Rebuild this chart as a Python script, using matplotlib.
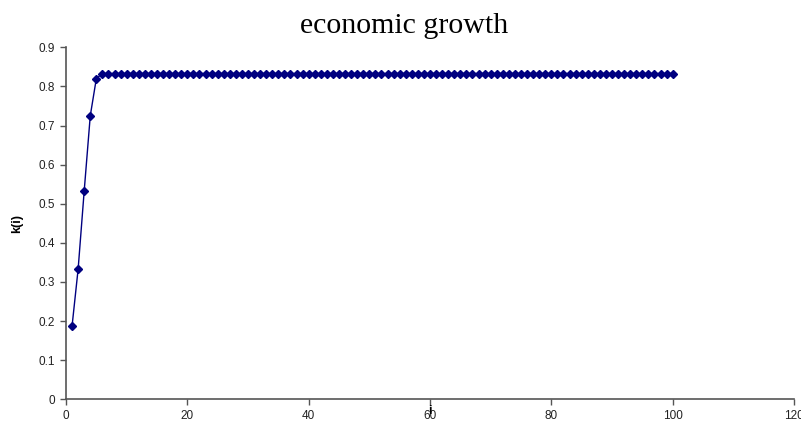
import matplotlib
matplotlib.use("Agg")
import matplotlib.pyplot as plt

# k(i) over iterations i = 1..100
steps = list(range(1, 101))
k_start = [0.1875, 0.333, 0.533, 0.725, 0.82]
k_steady = [0.833] * 95
k_values = k_start + k_steady

line_color = '#000080'

fig = plt.figure(figsize=(8.01, 4.24), dpi=100)
ax = fig.add_axes([0.0824, 0.0583, 0.9089, 0.8301])

ax.plot(steps, k_values, color=line_color, linewidth=1.0,
        marker='D', markersize=3.6, markerfacecolor=line_color,
        markeredgecolor=line_color)

ax.set_xlim(0, 120)
ax.set_ylim(0, 0.9)
ax.set_xticks(range(0, 121, 20))
ax.set_yticks([i / 10 for i in range(10)])
ax.set_yticklabels(['0'] + ['%.1f' % (i / 10) for i in range(1, 10)])

for side in ('top', 'right'):
    ax.spines[side].set_visible(False)
for side in ('left', 'bottom'):
    ax.spines[side].set_color('#555555')
    ax.spines[side].set_linewidth(1.2)
ax.tick_params(direction='out', length=4, width=1, color='#555555',
               labelsize=8.5, labelcolor='#222222', pad=4)
for lbl in ax.get_xticklabels() + ax.get_yticklabels():
    lbl.set_fontfamily('Liberation Sans')

ax.set_ylabel('k(i)', fontfamily='Liberation Sans', fontweight='bold',
              fontsize=9, labelpad=11)
fig.text(430 / 801, 1 - 411 / 424, 'i', fontfamily='Liberation Sans',
         fontweight='bold', fontsize=9, ha='center', va='center')

fig.text(404 / 801, 1 - 26 / 424, 'economic growth',
         fontfamily='Liberation Serif', fontsize=21.5, ha='center', va='center')

fig.savefig('out.png', dpi=100)
